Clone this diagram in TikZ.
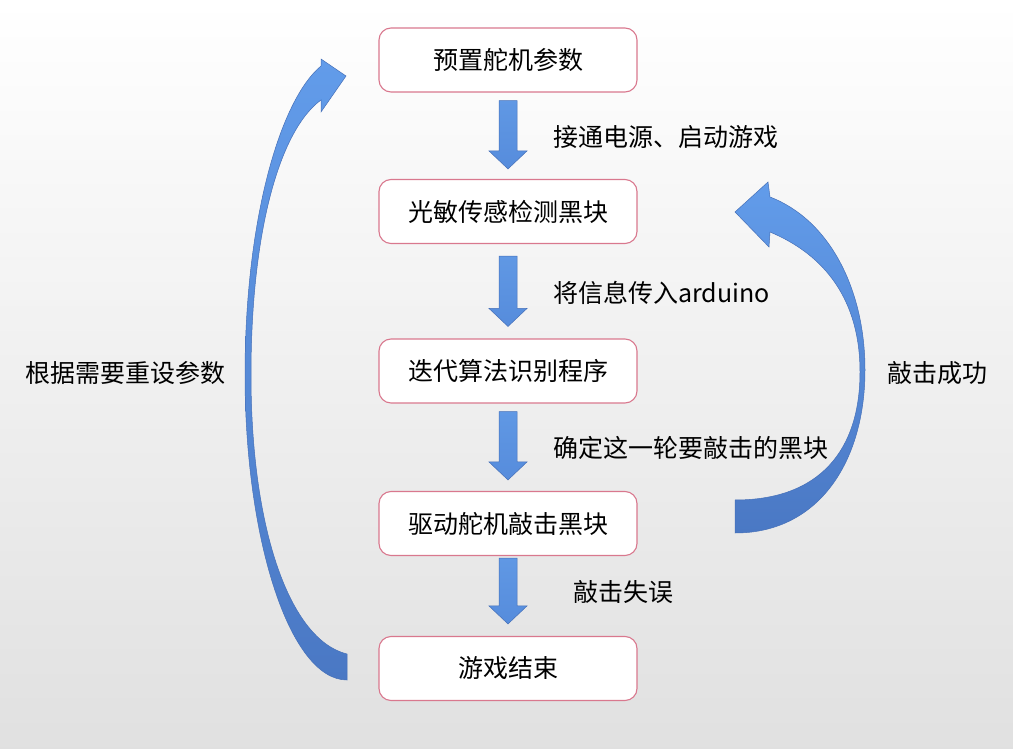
\documentclass[tikz,border=0pt]{standalone}
\usepackage{fontspec}
\setmainfont{Noto Sans CJK SC}
\usetikzlibrary{calc}
\usetikzlibrary{positioning}

\definecolor{boxline}{RGB}{217,120,142}
\definecolor{arrowtop}{RGB}{98,156,234}
\definecolor{arrowbot}{RGB}{74,120,196}
\definecolor{arrowedge}{RGB}{70,112,184}
\definecolor{flowtop}{RGB}{96,152,228}
\definecolor{flowbot}{RGB}{86,140,220}

% block arrow pointing down, from #1 to #2
\newcommand\flowdown[2]{%
  \path[blockarrow] let \p1=(#1), \p2=(#2) in
    (\x1-9pt,\y1) -- (\x1+9pt,\y1) -- (\x1+9pt,\y2+18pt) -- (\x1+19pt,\y2+18pt)
    -- (\x1,\y2) -- (\x1-19pt,\y2+18pt) -- (\x1-9pt,\y2+18pt) -- cycle;}

\begin{document}
\begin{tikzpicture}[x=1pt, y=-1pt,
  font=\fontsize{25}{30}\selectfont,
  box/.style={draw=boxline, line width=1.1pt, fill=white, rounded corners=12pt,
    minimum width=258pt, minimum height=64pt, inner sep=0pt},
  steplabel/.style={anchor=west, inner sep=0pt},
  blockarrow/.style={top color=flowtop, bottom color=flowbot, draw=arrowedge, line width=0.5pt},
  bendarrow/.style={top color=arrowtop, bottom color=arrowbot, draw=arrowedge, line width=0.5pt}]

  % Background
  \shade[top color=white, bottom color=black!12] (0,0) rectangle (1013,749);
  \useasboundingbox (0,0) rectangle (1013,749);

  % Steps of the flow
  \node[box] (preset) at (508,60)    {预置舵机参数};
  \node[box] (sense)  at (508,211.5) {光敏传感检测黑块};
  \node[box] (algo)   at (508,371)   {迭代算法识别程序};
  \node[box] (drive)  at (508,523.5) {驱动舵机敲击黑块};
  \node[box] (over)   at (508,668.5) {游戏结束};

  % Down arrows between the steps
  \flowdown{$(preset.south)+(0,8)$}{$(sense.north)+(0,-10)$}
  \flowdown{$(sense.south)+(0,12)$}{$(algo.north)+(0,-12)$}
  \flowdown{$(algo.south)+(0,8)$}{$(drive.north)+(0,-11)$}
  \flowdown{$(drive.south)+(0,2)$}{$(over.north)+(0,-12)$}

  % Labels of the down arrows
  \node[steplabel] (l1) at (553,137) {接通电源、启动游戏};
  \node[steplabel] (l2) at (553,293) {将信息传入arduino};
  \node[steplabel] (l3) at (553,448) {确定这一轮要敲击的黑块};
  \node[steplabel] (l4) at (573,592) {敲击失误};

  % Left curved arrow: back to the first step
  \path[bendarrow] (347,680) .. controls (290,680) and (245,540) .. (245,375)
    .. controls (245,220) and (280,100) .. (321,66)
    -- (321,59) -- (346,76) -- (321,112) -- (321,100)
    .. controls (280,130) and (251,230) .. (251,375)
    .. controls (251,530) and (290,640) .. (347,654) -- cycle;
  \node[steplabel] (reset) at (25,373) {根据需要重设参数};

  % Right curved arrow: back to sensing
  \path[bendarrow] (735,533) .. controls (820,533) and (865,460) .. (865,370)
    .. controls (865,290) and (830,220) .. (770,197)
    -- (768,182) -- (735,212) -- (769,247) -- (770,232)
    .. controls (825,255) and (860,300) .. (860,372)
    .. controls (860,450) and (820,500) .. (735,500) -- cycle;
  \node[steplabel] (hit) at (887,373) {敲击成功};

\end{tikzpicture}
\end{document}
